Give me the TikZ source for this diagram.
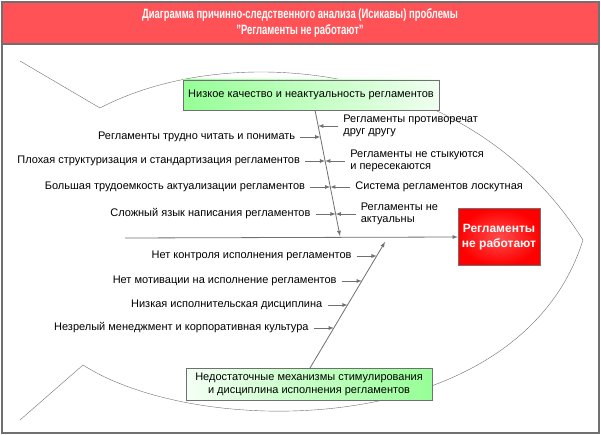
\documentclass[tikz,border=0pt]{standalone}
\usepackage{fontspec}
\setmainfont{Liberation Sans}
\usetikzlibrary{calc}
\definecolor{bandred}{HTML}{FF5257}
\definecolor{linegray}{HTML}{707070}
\definecolor{boxgreen}{HTML}{96FF96}
\tikzset{
  cause/.style={font=\fontsize{11}{12.5}\selectfont, inner sep=1pt, align=left},
  arr/.style={->, >=latex, draw=linegray, thick},
  groupbox/.style={draw=linegray, minimum height=30pt, font=\fontsize{11}{13}\selectfont, align=center}
}
\begin{document}
\begin{tikzpicture}[x=1pt, y=-1pt]
    \useasboundingbox (0,0) rectangle (601,435);
    % frame and title
    \draw[linegray, line width=1.2pt, fill=white] (2,2) rectangle (599,433);
    \draw[linegray, line width=1.2pt, fill=bandred] (2,2) rectangle (599,44);
    \node[text=white, font=\bfseries\fontsize{13.5}{16}\selectfont] (title) at (300,23)
        {\scalebox{0.7}[1]{\begin{tabular}{@{}c@{}}Диаграмма причинно-следственного анализа (Исикавы) проблемы\\"Регламенты не работают"\end{tabular}}};
    % fish body
    \draw[linegray, thin] (20,61) -- (100,108) .. controls (230,40) and (470,60) .. (583,240)
        .. controls (520,440) and (200,440) .. (83,365) -- (20,420);
    % boxes
    \node[groupbox, left color=boxgreen, right color=boxgreen!15, minimum width=256pt] (quality) at (311,95)
        {Низкое качество и неактуальность регламентов};
    \node[groupbox, left color=boxgreen!10, right color=boxgreen, minimum width=246pt, minimum height=32pt] (motive) at (309,384)
        {Недостаточные механизмы стимулирования\\и дисциплина исполнения регламентов};
    \node[draw=linegray, minimum width=82pt, minimum height=57pt, inner color=red!70!white, outer color=red,
        text=white, font=\bfseries\fontsize{12}{15}\selectfont, align=center] (problem) at (499,237)
        {Регламенты\\не работают};
    % spine and bones
    \coordinate (tail) at (125,238);
    \coordinate (qa) at (315,110);
    \coordinate (qb) at (340,236);
    \coordinate (ma) at (310,368);
    \coordinate (mb) at (385,242);
    \draw[arr] (tail) -- (problem.west);
    \draw[arr] (qa) -- (qb);
    \draw[arr] (ma) -- (mb);
    % causes on the upper bone, left side
    \foreach \y/\txt [count=\i] in {137/Регламенты трудно читать и понимать,
        161/Плохая структуризация и стандартизация регламентов,
        187/Большая трудоемкость актуализации регламентов,
        214/Сложный язык написания регламентов} {
        \coordinate (ql\i) at ($(qa)!{(\y-110)/126}!(qb)$);
        \node[cause, anchor=east] (qlt\i) at ($(ql\i)+(-24,0)$) {\txt};
        \draw[arr] (qlt\i.east) ++(4,0) -- (ql\i);
    }
    % causes on the upper bone, right side
    \foreach \y/\txt [count=\i] in {126/{Регламенты противоречат\\друг другу},
        161/{Регламенты не стыкуются\\и пересекаются},
        187/Система регламентов лоскутная,
        214/{Регламенты не\\актуальны}} {
        \coordinate (qr\i) at ($(qa)!{(\y-110)/126}!(qb)$);
        \node[cause, anchor=west] (qrt\i) at ($(qr\i)+(24,0)$) {\txt};
        \draw[arr] (qrt\i.west) ++(-4,0) -- (qr\i);
    }
    % causes on the lower bone
    \foreach \y/\txt [count=\i] in {256/Нет контроля исполнения регламентов,
        281/Нет мотивации на исполнение регламентов,
        305/Низкая исполнительская дисциплина,
        328/Незрелый менеджмент и корпоративная культура} {
        \coordinate (ml\i) at ($(ma)!{(368-\y)/126}!(mb)$);
        \node[cause, anchor=east] (mlt\i) at ($(ml\i)+(-24,0)$) {\txt};
        \draw[arr] (mlt\i.east) ++(4,0) -- (ml\i);
    }
\end{tikzpicture}
\end{document}
